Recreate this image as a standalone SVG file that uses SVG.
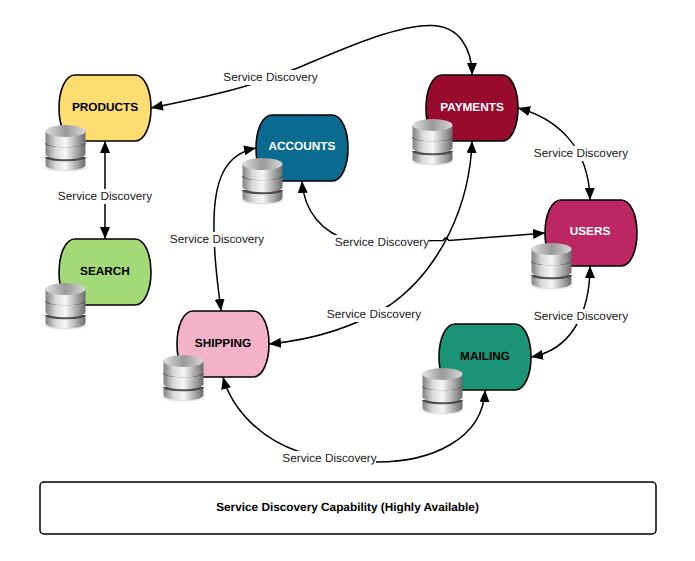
<svg xmlns="http://www.w3.org/2000/svg" width="695" height="561" viewBox="0 0 695 561">
<style>
text{font-family:"Liberation Sans",Arial,sans-serif;font-size:11.800px;text-anchor:middle;text-rendering:geometricPrecision}
.n{stroke:#000;stroke-width:1.6}
.t{font-weight:bold;fill:#000}
.w{font-weight:bold;fill:#fff}
.c{fill:none;stroke:#000;stroke-width:1.5}
.l{fill:#222}
.bg{fill:#fff}
</style>
<defs>
<marker id="a" markerWidth="13" markerHeight="10" refX="12" refY="5" orient="auto-start-reverse" markerUnits="userSpaceOnUse"><path d="M0,0L12,5L0,10Z" fill="#000"/></marker>
<linearGradient id="m" x1="0" x2="1" y1="0" y2="0"><stop offset="0" stop-color="#808080"/><stop offset=".25" stop-color="#d8d8d8"/><stop offset=".5" stop-color="#f6f6f6"/><stop offset=".78" stop-color="#a8a8a8"/><stop offset="1" stop-color="#6c6c6c"/></linearGradient>
<linearGradient id="tp" x1="0" x2="1" y1="0" y2="0"><stop offset="0" stop-color="#e0e0e0"/><stop offset=".5" stop-color="#999"/><stop offset="1" stop-color="#d8d8d8"/></linearGradient>
<radialGradient id="sh"><stop offset="0" stop-color="#000" stop-opacity=".35"/><stop offset="1" stop-color="#000" stop-opacity="0"/></radialGradient>
<path id="s" d="M16,0H76C86,0 92,16 92,33C92,50 86,66 76,66H16C6,66 0,50 0,33C0,16 6,0 16,0Z"/>
<g id="db">
<ellipse cx="20.500" cy="43" rx="24" ry="4" fill="url(#sh)"/>
<path d="M0.500,32V40C0.500,47 40.500,47 40.500,40V32Z" fill="url(#m)"/>
<path d="M0.500,32C0.500,37 40.500,37 40.500,32" fill="#4a4a4a" stroke="#4a4a4a"/>
<path d="M0.500,18V29C0.500,36 40.500,36 40.500,29V18Z" fill="url(#m)"/>
<path d="M0.500,18C0.500,23 40.500,23 40.500,18" fill="#4a4a4a" stroke="#4a4a4a"/>
<path d="M0.500,6V17C0.500,24 40.500,24 40.500,17V6Z" fill="url(#m)"/>
<ellipse cx="20.500" cy="6" rx="20" ry="6" fill="url(#tp)"/>
</g>
</defs>
<rect width="695" height="561" fill="#fff"/>
<g id="connectors">
<path class="c" marker-start="url(#a)" marker-end="url(#a)" d="M151,108C205,97 250,88 300,67C350,46 395,26 430,25.500C460,25 472,50 472,75"/>
<path class="c" marker-start="url(#a)" marker-end="url(#a)" d="M105,141V239"/>
<path class="c" marker-start="url(#a)" marker-end="url(#a)" d="M256,148C226,154 213,178 214,230C214,262 218,285 221,311"/>
<path class="c" marker-start="url(#a)" marker-end="url(#a)" d="M302,181C304,212 322,232 350,241L443,240.500L445,238L447,238.500L449,240.500L545,233"/>
<path class="c" marker-start="url(#a)" marker-end="url(#a)" d="M472,141C470,205 440,270 390,305C350,330 310,340 269,344"/>
<path class="c" marker-start="url(#a)" marker-end="url(#a)" d="M518,108C555,118 589,145 590,200"/>
<path class="c" marker-start="url(#a)" marker-end="url(#a)" d="M590,266C590,315 570,350 531,357"/>
<path class="c" marker-start="url(#a)" marker-end="url(#a)" d="M223,377C232,410 262,440 300,452L377,462C430,462 483,440 485,390"/>
</g>
<g id="products"><use href="#s" x="59" y="75" class="n" fill="#ffdd71"/><use href="#db" x="45" y="125"/><text class="t" x="105" y="111">PRODUCTS</text></g>
<g id="search"><use href="#s" x="59" y="239" class="n" fill="#a3d977"/><use href="#db" x="45" y="283"/><text class="t" x="105" y="275">SEARCH</text></g>
<g id="accounts"><use href="#s" x="256" y="115" class="n" fill="#0a6a8f"/><use href="#db" x="242" y="158"/><text class="w" x="302" y="150">ACCOUNTS</text></g>
<g id="payments"><use href="#s" x="426" y="75" class="n" fill="#990b2c"/><use href="#db" x="412" y="119"/><text class="w" x="472" y="111">PAYMENTS</text></g>
<g id="users"><use href="#s" x="545" y="200" class="n" fill="#bc2763"/><use href="#db" x="531" y="243"/><text class="w" x="590" y="235">USERS</text></g>
<g id="mailing"><use href="#s" x="439" y="324" class="n" fill="#1a9376"/><use href="#db" x="422" y="368"/><text class="t" x="485" y="360">MAILING</text></g>
<g id="shipping"><use href="#s" x="177" y="311" class="n" fill="#f4b2c8"/><use href="#db" x="163" y="355"/><text class="t" x="223" y="347">SHIPPING</text></g>
<g id="labels">
<rect class="bg" x="223" y="70" width="95" height="15"/><text class="l" x="270.500" y="81">Service Discovery</text>
<rect class="bg" x="58" y="189" width="94" height="15"/><text class="l" x="105" y="200">Service Discovery</text>
<rect class="bg" x="170" y="232" width="94" height="15"/><text class="l" x="217" y="243">Service Discovery</text>
<rect class="bg" x="335" y="235" width="94" height="15"/><text class="l" x="382" y="246">Service Discovery</text>
<rect class="bg" x="327" y="307" width="94" height="15"/><text class="l" x="374" y="318">Service Discovery</text>
<rect class="bg" x="534" y="146" width="94" height="15"/><text class="l" x="581" y="157">Service Discovery</text>
<rect class="bg" x="534" y="309" width="94" height="15"/><text class="l" x="581" y="320">Service Discovery</text>
<rect class="bg" x="282" y="451" width="94" height="15"/><text class="l" x="329.500" y="462">Service Discovery</text>
</g>
<g id="capability"><rect x="40" y="482" width="616" height="52" rx="4" fill="#fff" stroke="#000" stroke-width="1.5"/><text class="t" x="347.500" y="511">Service Discovery Capability (Highly Available)</text></g>
</svg>
